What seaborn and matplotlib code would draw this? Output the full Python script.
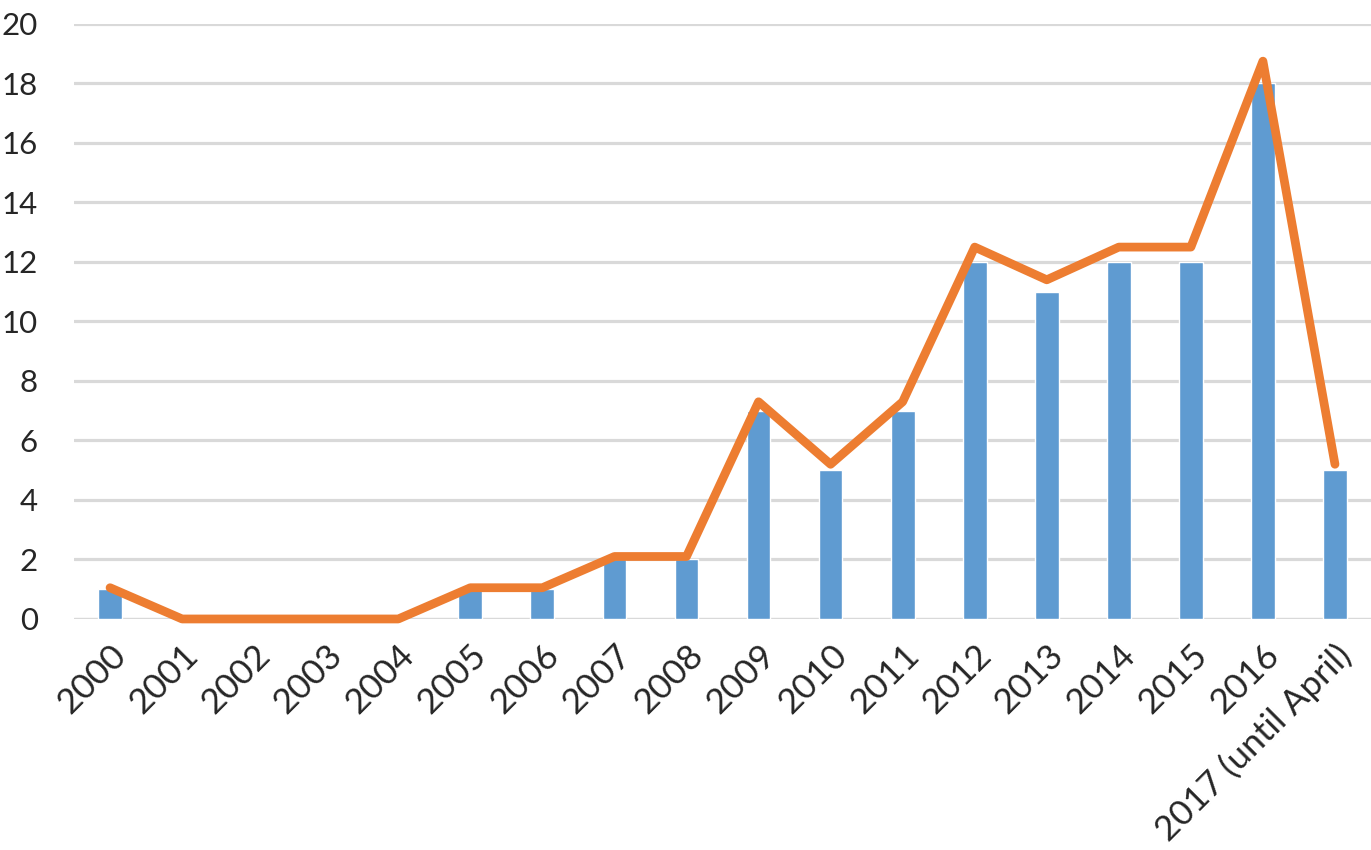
import numpy as np
import matplotlib
matplotlib.use("Agg")
import matplotlib.pyplot as plt
import seaborn as sns

years = ["2000", "2001", "2002", "2003", "2004", "2005", "2006", "2007", "2008",
         "2009", "2010", "2011", "2012", "2013", "2014", "2015", "2016",
         "2017 (until April)"]
bar_values = [1, 0, 0, 0, 0, 1, 1, 2, 2, 7, 5, 7, 12, 11, 12, 12, 18, 5]
line_values = [1.05, 0, 0, 0, 0, 1.05, 1.05, 2.1, 2.1, 7.3, 5.2, 7.3,
               12.5, 11.4, 12.5, 12.5, 18.75, 5.2]

sns.set_style("white")
plt.rcParams['font.family'] = ['Lato', 'DejaVu Sans']

fig = plt.figure(figsize=(13.71, 8.5), dpi=100)
ax = fig.add_axes([0.054, 0.2718, 0.946, 0.70])

sns.barplot(x=years, y=bar_values, color="#5F9BD1", width=0.33,
            saturation=1, ax=ax, zorder=3)
sns.lineplot(x=np.arange(len(years)), y=line_values, color="#ED7D31",
             linewidth=6.3, ax=ax, zorder=4, clip_on=False,
             solid_capstyle="round", solid_joinstyle="round")

ax.set_xlim(-0.5, len(years) - 0.5)
ax.set_ylim(0, 20)
ax.set_yticks(range(0, 21, 2))
ax.yaxis.grid(True, color="#D9D9D9", linewidth=2.3, zorder=0)
ax.set_axisbelow(True)
for s in ax.spines.values():
    s.set_visible(False)
ax.axhline(0, color="#D9D9D9", linewidth=2.3, zorder=1)

ax.tick_params(axis="y", length=0, pad=26, labelsize=22.5)
ax.tick_params(axis="x", length=0, pad=14, labelsize=25.5)
ax.set_xticks(range(len(years)))
ax.set_xticklabels(years, rotation=45, ha="right", rotation_mode="anchor")
ax.set_xlabel("")
ax.set_ylabel("")

fig.savefig("out.png", dpi=100)
